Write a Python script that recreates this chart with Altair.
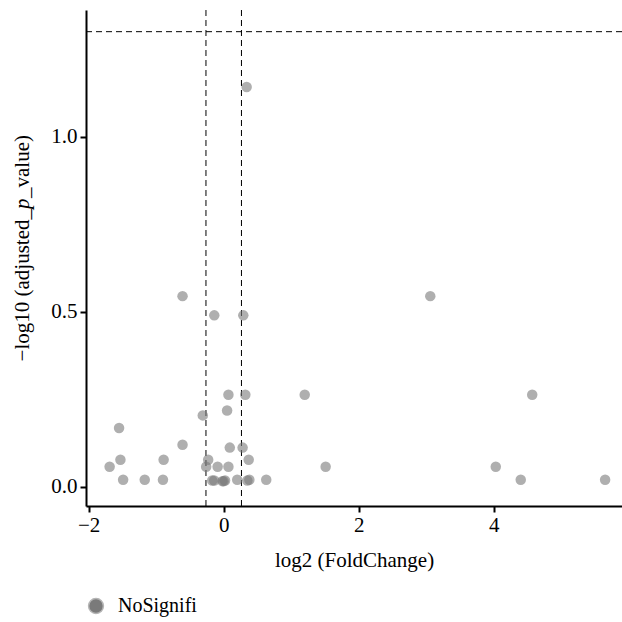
import altair as alt
import pandas as pd

# Data
log2fc = [0.34, -0.61, 3.06, -0.14, 0.29, 0.07, 0.32, 1.20, 4.57, 0.05,
          -0.31, -1.55, -0.61, 0.09, 0.28, -1.53, -0.89, -0.23, 0.37, -1.69,
          -0.26, -0.09, 0.07, 1.51, 4.03, -1.49, -1.17, -0.90, -0.17, -0.14,
          -0.02, 0.00, 0.02, 0.20, 0.35, 0.38, 0.63, 4.40, 5.65]
neglog10p = [1.143, 0.545, 0.545, 0.49, 0.49, 0.263, 0.263, 0.263, 0.263, 0.218,
             0.204, 0.168, 0.12, 0.112, 0.112, 0.077, 0.077, 0.077, 0.077, 0.057,
             0.057, 0.057, 0.057, 0.057, 0.057, 0.02, 0.02, 0.02, 0.018, 0.018,
             0.016, 0.016, 0.018, 0.02, 0.018, 0.02, 0.02, 0.02, 0.02]
groups = ["NoSignifi"] * len(log2fc)

fc_cut = [-0.263, 0.263]
p_cut = [1.301]

x_ticks = [-2, 0, 2, 4]
y_ticks = [0.0, 0.5, 1.0]

FONT = "Liberation Serif"
FS = 21

df = pd.DataFrame({"log2fc": log2fc, "nlp": neglog10p, "group": groups})
vdf = pd.DataFrame({"v": fc_cut})
hdf = pd.DataFrame({"h": p_cut})
one = pd.DataFrame({"a": [0]})

xscale = alt.Scale(domain=[-2.04, 5.9], nice=False, zero=False)
yscale = alt.Scale(domain=[-0.055, 1.363], nice=False, zero=False)

points = alt.Chart(df).mark_circle(size=110, opacity=0.6).encode(
    x=alt.X("log2fc:Q", scale=xscale,
            axis=alt.Axis(values=x_ticks, format="d", title="log2 (FoldChange)", grid=False,
                          domainColor="black", domainWidth=2, tickColor="black",
                          tickWidth=2, tickSize=6, labelFont=FONT, labelFontSize=FS,
                          labelColor="black", titleFont=FONT, titleFontSize=FS,
                          titleFontWeight="normal", titleColor="black",
                          titlePadding=14, labelPadding=2)),
    y=alt.Y("nlp:Q", scale=yscale,
            axis=alt.Axis(values=y_ticks, format=".1f", title=None, grid=False,
                          domainColor="black", domainWidth=2, tickColor="black",
                          tickWidth=2, tickSize=6, labelFont=FONT, labelFontSize=FS,
                          labelColor="black", labelPadding=3)),
    color=alt.Color("group:N",
                    scale=alt.Scale(domain=["NoSignifi"], range=["#7a7a7a"]),
                    legend=alt.Legend(title=None, orient="none", legendX=0, legendY=586,
                                      labelFont=FONT, labelFontSize=20, labelColor="black",
                                      symbolSize=220, symbolOpacity=1,
                                      symbolStrokeColor="#b5b5b5", symbolStrokeWidth=1.5,
                                      labelOffset=12)),
)

vrules = alt.Chart(vdf).mark_rule(color="black", strokeWidth=1, strokeDash=[6, 4]).encode(
    x=alt.X("v:Q", scale=xscale))
hrules = alt.Chart(hdf).mark_rule(color="black", strokeWidth=1, strokeDash=[6, 4]).encode(
    y=alt.Y("h:Q", scale=yscale))

TX = -57
Y0 = 199
t1 = alt.Chart(one).mark_text(angle=270, align="right", baseline="alphabetic",
                              font=FONT, fontSize=FS, color="black").encode(
    x=alt.value(TX), y=alt.value(Y0), text=alt.value("\u2212log10 (adjusted_"))
t2 = alt.Chart(one).mark_text(angle=270, align="left", baseline="alphabetic",
                              font=FONT, fontSize=FS, fontStyle="italic", color="black").encode(
    x=alt.value(TX), y=alt.value(Y0), text=alt.value("p"))
t3 = alt.Chart(one).mark_text(angle=270, align="left", baseline="alphabetic",
                              font=FONT, fontSize=FS, color="black").encode(
    x=alt.value(TX), y=alt.value(Y0 - 11), text=alt.value("_value)"))

chart = alt.layer(vrules, hrules, points, t1, t2, t3).properties(
    width=536, height=496,
    padding={"left": 86, "top": 10, "right": 0, "bottom": 116},
    autosize=alt.AutoSizeParams(type="none"),
).configure(background="white").configure_view(stroke=None)

chart.save("out.html", embed_options={"renderer": "svg", "actions": False})
